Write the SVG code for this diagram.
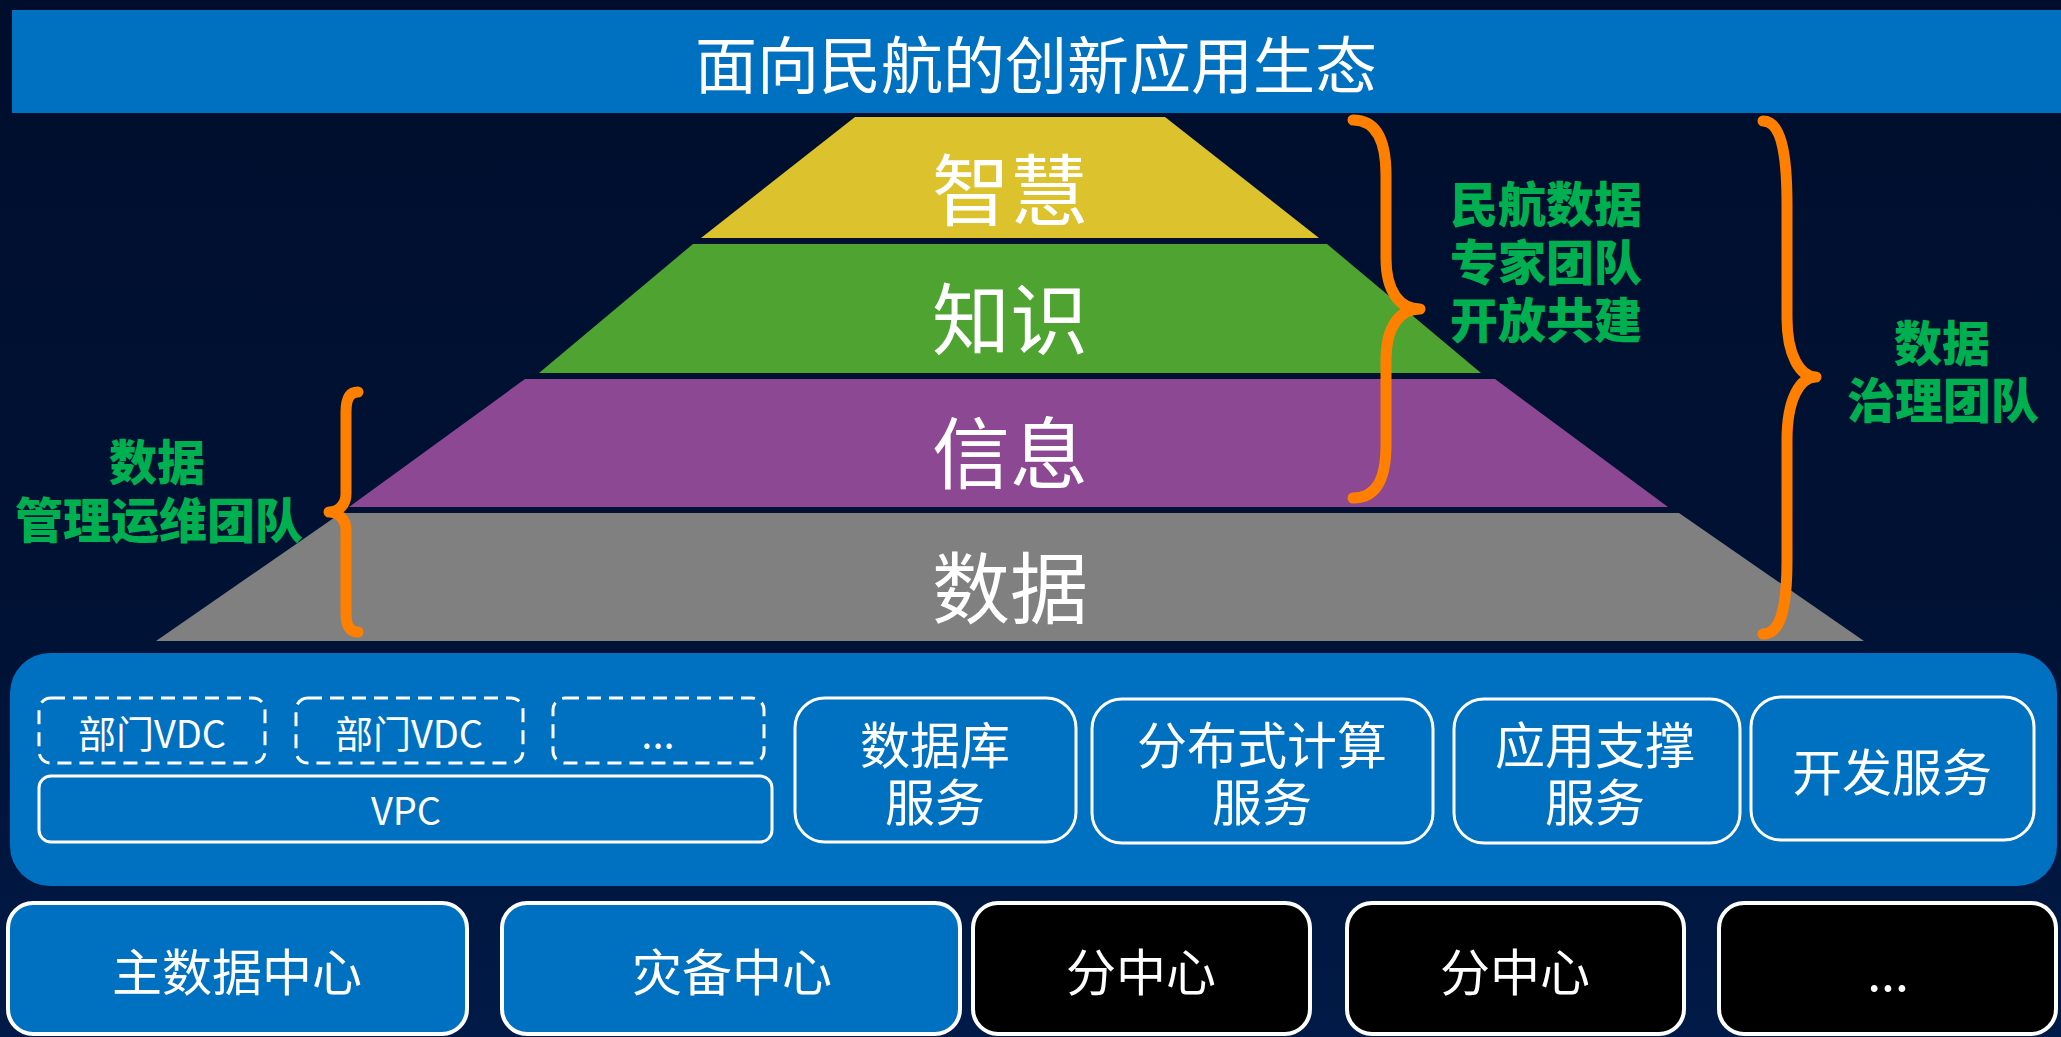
<svg xmlns="http://www.w3.org/2000/svg" width="2061" height="1037" viewBox="0 0 2061 1037">
<defs>
<linearGradient id="bg" x1="0" y1="0" x2="0" y2="1">
<stop offset="0" stop-color="#000e2c"/>
<stop offset="0.6" stop-color="#001235"/>
<stop offset="1" stop-color="#011a47"/>
</linearGradient>
<style>
.t{font-family:"Noto Sans CJK SC","Noto Sans",sans-serif;fill:#fff;text-anchor:middle;dominant-baseline:central}
.g{font-family:"Noto Sans CJK SC","Noto Sans",sans-serif;fill:#00b050;font-weight:900;text-anchor:middle;dominant-baseline:central;font-size:48px}
.brace{fill:none;stroke:#ff8000;stroke-width:11;stroke-linecap:round;stroke-linejoin:round}
.svc{fill:#0070c0;stroke:#fff;stroke-width:3}
.dash{fill:none;stroke:#fff;stroke-width:3;stroke-dasharray:14 8}
.dc{stroke:#fff;stroke-width:4}
</style>
</defs>
<rect x="0" y="0" width="2061" height="1037" fill="url(#bg)"/>

<g id="title">
<rect x="12" y="10" width="2049" height="103" fill="#0070c0"/>
<text class="t" x="1036" y="62" font-size="62">面向民航的创新应用生态</text>
</g>

<g id="layer-wisdom">
<polygon points="855,117 1165,117 1319,238 701,238" fill="#dcc22c"/>
<text class="t" x="1010" y="186" font-size="78">智慧</text>
</g>
<g id="layer-knowledge">
<polygon points="693,244 1327,244 1481,373 539,373" fill="#4ea331"/>
<text class="t" x="1010" y="315" font-size="78">知识</text>
</g>
<g id="layer-information">
<polygon points="525,379 1495,379 1668,507 349,507" fill="#8d4893"/>
<text class="t" x="1010" y="449" font-size="78">信息</text>
</g>
<g id="layer-data">
<polygon points="341,513 1679,513 1864,641 156,641" fill="#808080"/>
<text class="t" x="1010" y="584" font-size="78">数据</text>
</g>

<g id="braces">
<path class="brace" d="M1353,120 C1376,120 1386,140 1386,175 L1386,258 C1386,292 1400,309 1420,309 C1400,309 1386,326 1386,360 L1386,445 C1386,480 1376,498 1353,498"/>
<path class="brace" d="M1763,121 C1780,121 1787,150 1787,205 L1787,318 C1787,355 1800,377 1816,377 C1800,377 1787,399 1787,440 L1787,560 C1787,610 1780,634 1763,634"/>
<path class="brace" d="M358,392 C350,392 346,398 346,412 L346,494 C346,505 338,512 329,512 C338,512 346,519 346,530 L346,614 C346,626 350,632 358,632"/>
</g>

<g id="label-expert">
<text class="g" x="1546" y="201">民航数据</text>
<text class="g" x="1546" y="259">专家团队</text>
<text class="g" x="1546" y="317">开放共建</text>
</g>
<g id="label-governance">
<text class="g" x="1942" y="340">数据</text>
<text class="g" x="1943" y="397">治理团队</text>
</g>
<g id="label-ops">
<text class="g" x="157" y="459">数据</text>
<text class="g" x="159" y="517">管理运维团队</text>
</g>

<g id="platform">
<rect x="10" y="653" width="2047" height="233" rx="40" fill="#0070c0"/>
</g>
<g id="vdc1">
<rect class="dash" x="39" y="698" width="226" height="65" rx="12"/>
<text class="t" x="152" y="731" font-size="38">部门VDC</text>
</g>
<g id="vdc2">
<rect class="dash" x="296" y="698" width="227" height="65" rx="12"/>
<text class="t" x="409" y="731" font-size="38">部门VDC</text>
</g>
<g id="vdc3">
<rect class="dash" x="553" y="698" width="211" height="65" rx="12"/>
<text class="t" x="658" y="731" font-size="40">...</text>
</g>
<g id="vpc">
<rect x="39" y="776" width="733" height="66" rx="12" fill="none" stroke="#fff" stroke-width="3"/>
<text class="t" x="406" y="808" font-size="38">VPC</text>
</g>
<g id="svc-db">
<rect class="svc" x="795" y="698" width="281" height="144" rx="30"/>
<text class="t" x="935" y="742" font-size="50">数据库</text>
<text class="t" x="935" y="799" font-size="50">服务</text>
</g>
<g id="svc-dist">
<rect class="svc" x="1092" y="699" width="341" height="144" rx="30"/>
<text class="t" x="1262" y="742" font-size="50">分布式计算</text>
<text class="t" x="1262" y="799" font-size="50">服务</text>
</g>
<g id="svc-app">
<rect class="svc" x="1454" y="699" width="286" height="144" rx="30"/>
<text class="t" x="1595" y="742" font-size="50">应用支撑</text>
<text class="t" x="1595" y="799" font-size="50">服务</text>
</g>
<g id="svc-dev">
<rect class="svc" x="1751" y="697" width="283" height="143" rx="30"/>
<text class="t" x="1892" y="769" font-size="50">开发服务</text>
</g>

<g id="dc-main">
<rect class="dc" x="8" y="903" width="459" height="131" rx="25" fill="#0070c0"/>
<text class="t" x="237" y="969" font-size="50">主数据中心</text>
</g>
<g id="dc-dr">
<rect class="dc" x="502" y="903" width="458" height="131" rx="25" fill="#0070c0"/>
<text class="t" x="732" y="969" font-size="50">灾备中心</text>
</g>
<g id="dc-branch1">
<rect class="dc" x="973" y="903" width="337" height="131" rx="25" fill="#000"/>
<text class="t" x="1141" y="969" font-size="50">分中心</text>
</g>
<g id="dc-branch2">
<rect class="dc" x="1347" y="903" width="337" height="131" rx="25" fill="#000"/>
<text class="t" x="1515" y="969" font-size="50">分中心</text>
</g>
<g id="dc-more">
<rect class="dc" x="1719" y="903" width="337" height="131" rx="25" fill="#000"/>
<text class="t" x="1888" y="969" font-size="50">...</text>
</g>
</svg>
